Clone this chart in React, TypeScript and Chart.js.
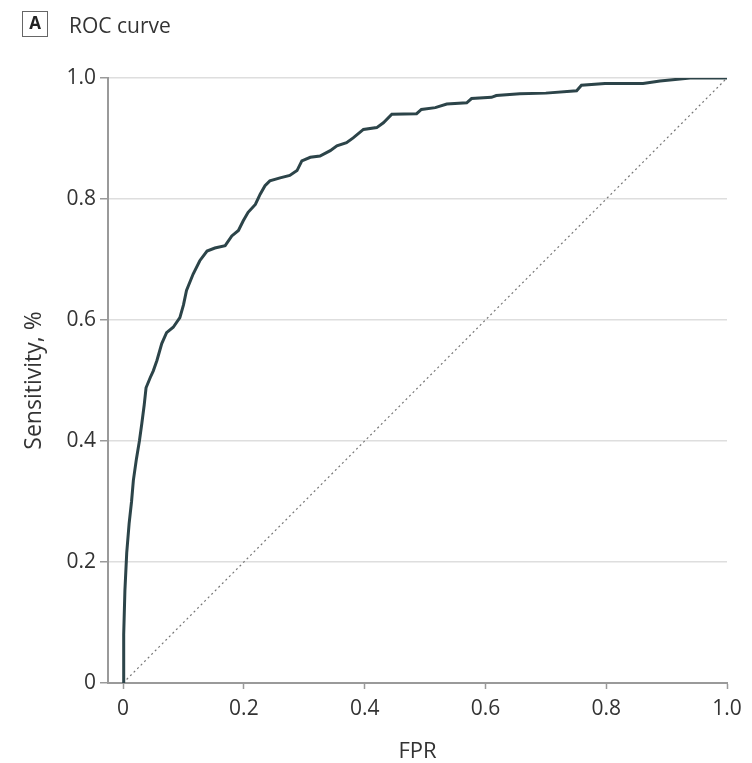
import React, { useEffect, useRef } from "react";
import { Chart, registerables } from "chart.js";

Chart.register(...registerables);

const fprValues = [
  0, 0.001, 0.003, 0.006, 0.01, 0.014, 0.017, 0.022, 0.027, 0.031, 0.035, 0.038, 0.045, 0.05, 0.056,
  0.064, 0.072, 0.083, 0.094, 0.1, 0.105, 0.116, 0.127, 0.139, 0.152, 0.169, 0.18, 0.191, 0.199,
  0.207, 0.219, 0.227, 0.235, 0.243, 0.26, 0.276, 0.288, 0.296, 0.31, 0.326, 0.343, 0.354, 0.37,
  0.381, 0.398, 0.42, 0.431, 0.445, 0.486, 0.494, 0.517, 0.536, 0.569, 0.577, 0.61, 0.618, 0.657,
  0.7, 0.751, 0.759, 0.798, 0.861, 0.889, 0.939, 1.0,
];
const tprValues = [
  0, 0.08, 0.153, 0.215, 0.264, 0.3, 0.335, 0.37, 0.4, 0.429, 0.46, 0.488, 0.505, 0.516, 0.533,
  0.561, 0.579, 0.588, 0.604, 0.625, 0.649, 0.676, 0.698, 0.714, 0.719, 0.723, 0.739, 0.748, 0.764,
  0.778, 0.791, 0.808, 0.822, 0.83, 0.835, 0.839, 0.847, 0.863, 0.869, 0.871, 0.88, 0.888, 0.893,
  0.901, 0.915, 0.918, 0.926, 0.94, 0.941, 0.948, 0.951, 0.957, 0.959, 0.966, 0.968, 0.971, 0.974,
  0.975, 0.979, 0.988, 0.991, 0.991, 0.995, 1.0, 1.0,
];
const refX = [0, 1];
const refY = [0, 1];
const tickValues = [0, 0.2, 0.4, 0.6, 0.8, 1.0];
const panelLetter = "A";
const panelTitle = "ROC curve";
const xTitle = "FPR";
const yTitle = "Sensitivity, %";

const FONT = "'Open Sans', Lato, sans-serif";

const titlePlugin = {
  id: "panelTitle",
  afterDraw(chart: any) {
    const ctx = chart.ctx;
    ctx.save();
    ctx.strokeStyle = "#666";
    ctx.lineWidth = 1;
    ctx.strokeRect(22.5, 11.5, 25, 25);
    ctx.fillStyle = "#222";
    ctx.font = `bold 17px ${FONT}`;
    ctx.textAlign = "center";
    ctx.textBaseline = "middle";
    ctx.fillText(panelLetter, 35, 24.5);
    ctx.font = `21px ${FONT}`;
    ctx.textAlign = "left";
    ctx.fillStyle = "#333";
    ctx.fillText(panelTitle, 69, 27);
    ctx.restore();
  },
};

export default function App() {
  const ref = useRef<HTMLCanvasElement | null>(null);
  useEffect(() => {
    const canvas = ref.current!;
    const chart = new Chart(canvas, {
      type: "scatter",
      data: {
        datasets: [
          {
            data: fprValues.map((x, i) => ({ x, y: tprValues[i] })),
            showLine: true,
            borderColor: "#2c4449",
            borderWidth: 3,
            pointRadius: 0,
            tension: 0,
          },
          {
            data: refX.map((x, i) => ({ x, y: refY[i] })),
            showLine: true,
            borderColor: "#777",
            borderWidth: 1.2,
            borderDash: [2, 3],
            pointRadius: 0,
          },
        ],
      },
      options: {
        responsive: false,
        animation: false,
        layout: { padding: { top: 78, right: 25, left: 0, bottom: 0 } },
        plugins: { legend: { display: false }, tooltip: { enabled: false } },
        scales: {
          x: {
            type: "linear",
            min: -0.025,
            max: 1.0,
            afterBuildTicks: (s: any) => {
              s.ticks = tickValues.map((v) => ({ value: v }));
            },
            afterFit: (s: any) => {
              s.height = 80;
            },
            border: { color: "#9a9a9a", width: 2 },
            grid: {
              drawOnChartArea: false,
              drawTicks: true,
              tickLength: 6,
              tickColor: "#9a9a9a",
              tickWidth: 1.5,
            },
            ticks: {
              color: "#333",
              font: { family: FONT, size: 21 },
              padding: 7,
              maxRotation: 0,
              callback: (v: any) => (v === 0 ? "0" : Number(v).toFixed(1)),
            },
            title: {
              display: true,
              text: xTitle,
              color: "#333",
              font: { family: FONT, size: 22 },
              padding: { top: 6, bottom: -2 },
            },
          },
          y: {
            type: "linear",
            min: 0,
            max: 1.0,
            afterBuildTicks: (s: any) => {
              s.ticks = tickValues.map((v) => ({ value: v }));
            },
            afterFit: (s: any) => {
              s.width = 108;
            },
            border: { color: "#9a9a9a", width: 2 },
            grid: {
              color: "#dedede",
              lineWidth: 1.5,
              drawTicks: true,
              tickLength: 8,
              tickColor: "#9a9a9a",
              tickWidth: 1.5,
            },
            ticks: {
              color: "#333",
              font: { family: FONT, size: 21 },
              padding: 4,
              callback: (v: any) => (v === 0 ? "0" : Number(v).toFixed(1)),
            },
            title: {
              display: true,
              text: yTitle,
              color: "#333",
              font: { family: FONT, size: 23 },
              padding: { top: 21, bottom: 4 },
            },
          },
        },
      },
      plugins: [titlePlugin],
    } as any);
    return () => chart.destroy();
  }, []);
  return (
    <div style={{ position: "fixed", left: 0, top: 0, width: 752, height: 763, background: "#fff" }}>
      <canvas ref={ref} width={752} height={763} />
    </div>
  );
}
